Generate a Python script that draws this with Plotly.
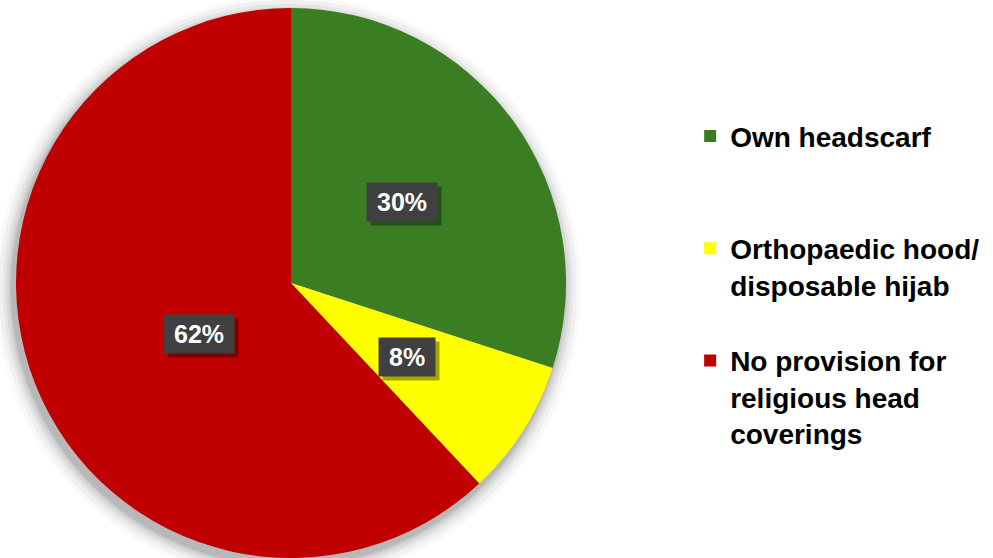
import math
import plotly.graph_objects as go

labels = ["Own headscarf", "Orthopaedic hood/<br>disposable hijab", "No provision for<br>religious head<br>coverings"]
legend_labels = ["Own headscarf<br> <br> ", "Orthopaedic hood/<br>disposable hijab<br> ", "No provision for<br>religious head<br>coverings"]
values = [30, 8, 62]
colors = ["#3B7D23", "#FFFF00", "#C00000"]

W, H = 993, 558
mt = 8
ph = H - mt
cx_px, cy_px = 291, mt + ph / 2
R = ph / 2
dom_x = [(cx_px - R) / W, (cx_px + R) / W]

fig = go.Figure()
fig.add_trace(go.Pie(
    labels=legend_labels,
    values=values,
    marker=dict(colors=colors, line=dict(width=0)),
    sort=False,
    direction="clockwise",
    rotation=0,
    textinfo="none",
    hoverinfo="label+percent",
    domain=dict(x=dom_x, y=[0, 1]),
))

# soft shadow around the pie
shapes = []
for grow, op in [(18, 0.025), (14, 0.035), (10, 0.045), (7, 0.055), (4, 0.07), (2, 0.08)]:
    r = R + grow
    ox, oy = -3, 6
    shapes.append(dict(
        type="circle", xref="paper", yref="paper", layer="below",
        x0=(cx_px + ox - r) / W, x1=(cx_px + ox + r) / W,
        y0=(H - (cy_px + oy) - r) / ph, y1=(H - (cy_px + oy) + r) / ph,
        fillcolor=f"rgba(0,0,0,{op})", line=dict(width=0),
    ))

# percentage labels with dark boxes
FS = 25
total = sum(values)
annotations = []
cum = 0
for v in values:
    mid = (cum + v / 2) / total * 2 * math.pi
    cum += v
    px = cx_px + 0.5 * R * math.sin(mid)
    py = cy_px - 0.5 * R * math.cos(mid)
    xp = px / W
    yp = (H - py) / ph
    txt = f"{round(v / total * 100)}%"
    bw = FS * (0.556 * (len(txt) - 1) + 0.889) + 20
    bh = 38
    annotations.append(dict(
        x=xp, y=yp, xref="paper", yref="paper", text=" ", showarrow=False,
        xshift=4, yshift=-4, width=bw, height=bh,
        font=dict(family="Liberation Sans, Arial", size=FS),
        bgcolor="rgba(0,0,0,0.35)", borderpad=0,
    ))
    annotations.append(dict(
        x=xp, y=yp, xref="paper", yref="paper", text=f"<b>{txt}</b>", showarrow=False,
        width=bw, height=bh, align="center", valign="middle",
        font=dict(family="Liberation Sans, Arial", size=FS, color="white"),
        bgcolor="#404040", borderpad=0,
    ))

fig.update_layout(
    width=W, height=H,
    margin=dict(l=0, r=0, t=mt, b=0),
    paper_bgcolor="white",
    plot_bgcolor="white",
    shapes=shapes,
    annotations=annotations,
    legend=dict(
        x=0.695, y=0.812, xanchor="left", yanchor="top",
        valign="top",
        font=dict(family="Liberation Sans, Arial", size=28, color="black", weight="bold"),
        bgcolor="rgba(0,0,0,0)",
    ),
    showlegend=True,
)

fig.write_html("out.html")
